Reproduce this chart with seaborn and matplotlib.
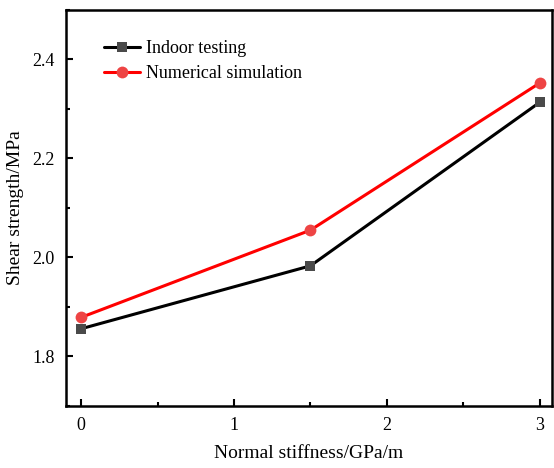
import matplotlib
matplotlib.use("Agg")
import matplotlib.pyplot as plt
import seaborn as sns
import pandas as pd
from matplotlib.ticker import MultipleLocator

stiffness = [0, 1.5, 3]
indoor = [1.856, 1.983, 2.313]
numerical = [1.879, 2.055, 2.352]
series_names = ["Indoor testing", "Numerical simulation"]

sns.set_style("ticks", {"axes.edgecolor": "black", "xtick.color": "black",
                        "ytick.color": "black", "text.color": "black",
                        "axes.labelcolor": "black"})
plt.rcParams['font.family'] = ['Liberation Serif', 'DejaVu Serif']
plt.rcParams['mathtext.fontset'] = 'stix'

df = pd.DataFrame({
    "x": stiffness * 2,
    "y": indoor + numerical,
    "series": [series_names[0]] * 3 + [series_names[1]] * 3,
})

fig = plt.figure(figsize=(5.54, 4.68), dpi=100)
ax = fig.add_axes([0.119, 0.1325, 0.877, 0.8465])

sns.lineplot(data=df, x="x", y="y", hue="series", style="series",
             palette={series_names[0]: "black", series_names[1]: "#ff0000"},
             markers={series_names[0]: "s", series_names[1]: "o"},
             dashes=False, linewidth=2.2, markersize=8, ax=ax,
             markeredgewidth=0, legend=True)

def style_marker(ln):
    if ln.get_marker() == "s":
        ln.set_markerfacecolor("#4a4a4a")
        ln.set_markersize(7)
    elif ln.get_marker() == "o":
        ln.set_markerfacecolor("#ee4444")
        ln.set_markersize(8.5)

for ln in ax.get_lines():
    style_marker(ln)

ax.set_xlim(-0.1, 3.08)
ax.set_ylim(1.7, 2.5)
ax.xaxis.set_major_locator(MultipleLocator(1))
ax.xaxis.set_minor_locator(MultipleLocator(0.5))
ax.yaxis.set_major_locator(MultipleLocator(0.2))
ax.yaxis.set_minor_locator(MultipleLocator(0.1))
ax.tick_params(axis="both", which="major", direction="in", length=5, width=1.5,
               labelsize=13, pad=8, top=False, right=False, colors="black")
ax.tick_params(axis="both", which="minor", direction="in", length=3, width=1.5,
               top=False, right=False, colors="black")
for s in ax.spines.values():
    s.set_linewidth(1.8)
    s.set_color("black")

ax.set_xlabel("Normal stiffness/GPa/m", fontsize=14, labelpad=8, color="black")
ax.set_ylabel("Shear strength/MPa", fontsize=14, labelpad=6, color="black")

leg = ax.legend(frameon=False, loc="upper left", bbox_to_anchor=(0.045, 0.965),
                fontsize=13, handlelength=2.0, handletextpad=0.3, labelspacing=0.45)
for h in leg.legend_handles:
    style_marker(h)

fig.savefig("out.png", dpi=100)
